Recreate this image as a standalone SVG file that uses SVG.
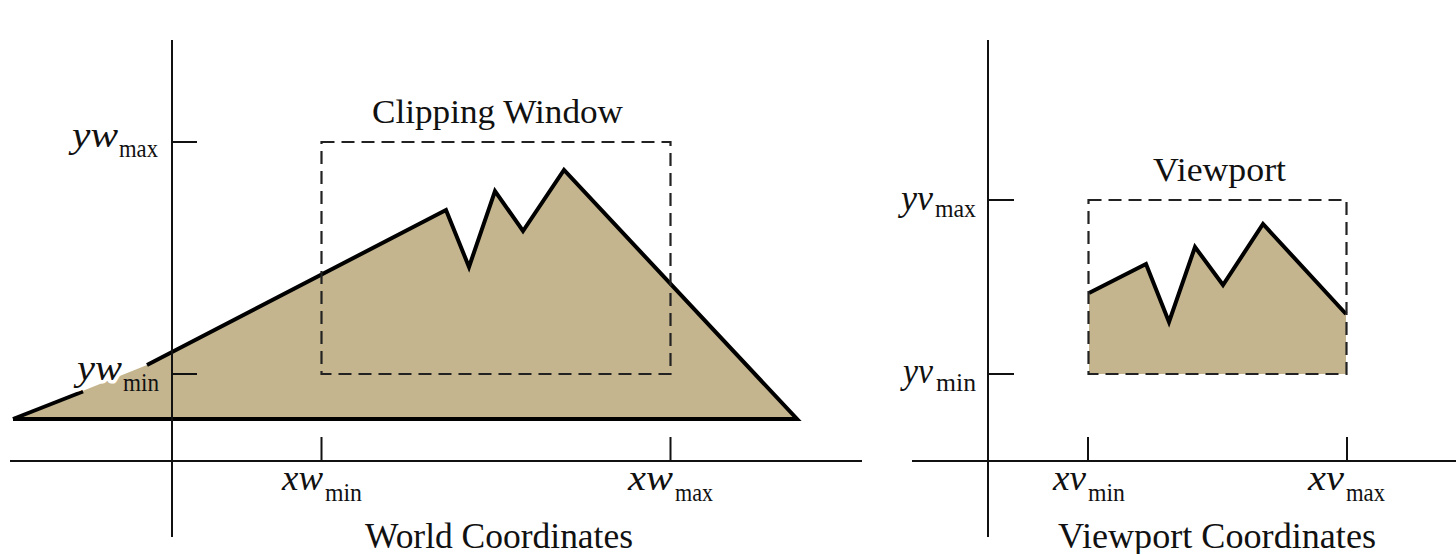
<svg xmlns="http://www.w3.org/2000/svg" width="1456" height="554" viewBox="0 0 1456 554">
<style>
.axis{stroke:#111;stroke-width:2;fill:none}
.tick{stroke:#111;stroke-width:2;fill:none}
.dash{stroke:#222;stroke-width:2.2;fill:none;stroke-dasharray:13 7}
.fill{fill:#c5b58f;stroke:none}
.edge{stroke:#000;stroke-width:4;fill:none;stroke-linejoin:miter;stroke-linecap:butt}
.t{font-family:"Liberation Serif","Times New Roman",serif;fill:#111}
.it{font-family:"Liberation Serif","Times New Roman",serif;font-style:italic;font-size:36px;fill:#111}
.sub{font-family:"Liberation Serif","Times New Roman",serif;font-size:25px;fill:#111}
.halo{stroke:#fff;stroke-width:7;paint-order:stroke;stroke-linejoin:round}
</style>
<rect width="1456" height="554" fill="#fff"/>

<g id="world">
  <g id="world-polygon">
    <polygon class="fill" points="13,419 147,365 446,210 469,267 495,191 523,231 564,170 797,419"/>
    <path class="edge" d="M13,419 L83,391.5"/>
    <path class="edge" d="M147,365 L446,210 L469,267 L495,191 L523,231 L564,170 L797,419 L13,419"/>
  </g>
  <g id="world-axes">
    <line class="axis" x1="172" y1="40" x2="172" y2="537"/>
    <line class="axis" x1="10" y1="461" x2="862" y2="461"/>
    <line class="tick" x1="172" y1="142" x2="197" y2="142"/>
    <line class="tick" x1="172" y1="374" x2="197" y2="374"/>
    <line class="tick" x1="321.5" y1="437" x2="321.5" y2="461"/>
    <line class="tick" x1="670.5" y1="437" x2="670.5" y2="461"/>
  </g>
  <g id="clipping-window">
    <rect class="dash" x="321.5" y="142" width="349" height="232"/>
    <text class="t" x="372" y="123" font-size="33" textLength="251" lengthAdjust="spacingAndGlyphs">Clipping Window</text>
  </g>
  <g id="world-labels">
    <text class="it" x="72" y="147" textLength="46" lengthAdjust="spacingAndGlyphs">yw</text>
    <text class="sub" x="119" y="157" textLength="39" lengthAdjust="spacingAndGlyphs">max</text>
    <text class="it halo" x="77" y="380" textLength="45" lengthAdjust="spacingAndGlyphs">yw</text>
    <text class="sub" x="123" y="391" textLength="36" lengthAdjust="spacingAndGlyphs">min</text>
    <text class="it" x="282" y="490" textLength="41" lengthAdjust="spacingAndGlyphs">xw</text>
    <text class="sub" x="325" y="501" textLength="37" lengthAdjust="spacingAndGlyphs">min</text>
    <text class="it" x="628" y="490" textLength="45" lengthAdjust="spacingAndGlyphs">xw</text>
    <text class="sub" x="675" y="501" textLength="38" lengthAdjust="spacingAndGlyphs">max</text>
    <text class="t" x="365" y="548" font-size="35" textLength="268" lengthAdjust="spacingAndGlyphs">World Coordinates</text>
  </g>
</g>

<g id="viewport-panel">
  <g id="viewport-polygon">
    <polygon class="fill" points="1089,293 1146,264 1169,322 1195,247 1223,285 1263,224 1346,314 1346,374 1089,374"/>
    <path class="edge" d="M1089,293 L1146,264 L1169,322 L1195,247 L1223,285 L1263,224 L1346,314"/>
  </g>
  <g id="viewport-axes">
    <line class="axis" x1="988" y1="40" x2="988" y2="537"/>
    <line class="axis" x1="912" y1="461" x2="1456" y2="461"/>
    <line class="tick" x1="988" y1="200" x2="1014" y2="200"/>
    <line class="tick" x1="988" y1="374" x2="1014" y2="374"/>
    <line class="tick" x1="1088" y1="437" x2="1088" y2="461"/>
    <line class="tick" x1="1347" y1="437" x2="1347" y2="461"/>
  </g>
  <g id="viewport">
    <rect class="dash" x="1088.5" y="200" width="258" height="174"/>
    <text class="t" x="1153" y="181" font-size="33" textLength="133" lengthAdjust="spacingAndGlyphs">Viewport</text>
  </g>
  <g id="viewport-labels">
    <text class="it" x="901" y="210" textLength="32" lengthAdjust="spacingAndGlyphs">yv</text>
    <text class="sub" x="935" y="217" textLength="41" lengthAdjust="spacingAndGlyphs">max</text>
    <text class="it" x="903" y="383" textLength="30" lengthAdjust="spacingAndGlyphs">yv</text>
    <text class="sub" x="936" y="391" textLength="40" lengthAdjust="spacingAndGlyphs">min</text>
    <text class="it" x="1053" y="490" textLength="33" lengthAdjust="spacingAndGlyphs">xv</text>
    <text class="sub" x="1088" y="501" textLength="37" lengthAdjust="spacingAndGlyphs">min</text>
    <text class="it" x="1308" y="490" textLength="36" lengthAdjust="spacingAndGlyphs">xv</text>
    <text class="sub" x="1346" y="501" textLength="39" lengthAdjust="spacingAndGlyphs">max</text>
    <text class="t" x="1058" y="548" font-size="35" textLength="318" lengthAdjust="spacingAndGlyphs">Viewport Coordinates</text>
  </g>
</g>
<g id="connectors"/>
</svg>
